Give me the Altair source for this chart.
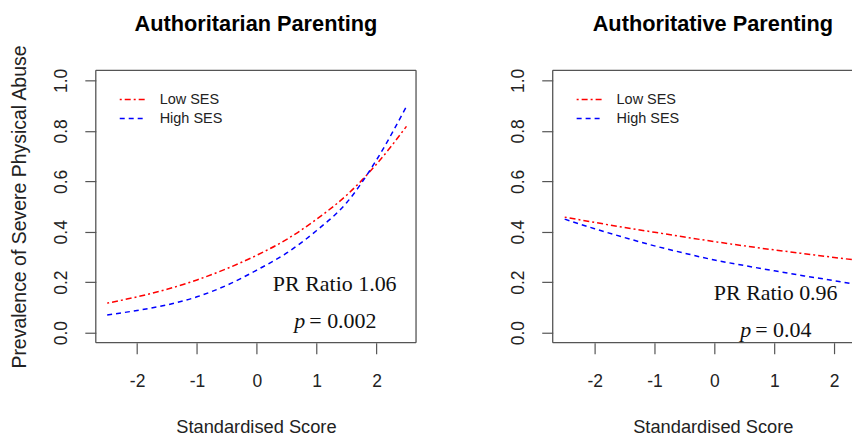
import altair as alt
import pandas as pd

# ---- data ----
X_SCORE = [-2.5, -2.0, -1.5, -1.0, -0.5, 0.0, 0.5, 1.0, 1.5, 2.0, 2.5]
SERIES = ["Low SES", "High SES"]

AUTHORITARIAN_LOW = [0.117, 0.142, 0.172, 0.209, 0.254, 0.307, 0.370, 0.450, 0.545, 0.668, 0.818]
AUTHORITARIAN_HIGH = [0.070, 0.088, 0.110, 0.142, 0.188, 0.248, 0.316, 0.405, 0.515, 0.685, 0.897]

AUTHORITATIVE_LOW = [0.458, 0.437, 0.417, 0.398, 0.379, 0.361, 0.344, 0.328, 0.313, 0.298, 0.284]
AUTHORITATIVE_HIGH = [0.450, 0.412, 0.377, 0.344, 0.315, 0.288, 0.266, 0.245, 0.225, 0.206, 0.186]

X_TICKS = [-2, -1, 0, 1, 2]
Y_TICKS = [0.0, 0.2, 0.4, 0.6, 0.8, 1.0]

TITLES = ["Authoritarian Parenting", "Authoritative Parenting"]
PR_TEXT = ["PR Ratio 1.06", "PR Ratio 0.96"]
P_TEXT = ["= 0.002", "= 0.04"]
X_TITLE = "Standardised Score"
Y_TITLE = "Prevalence of Severe Physical Abuse"

# ---- styles ----
COLORS = ["#ff0000", "#0000ff"]
DASHES = [[2, 3, 6, 3], [5, 4]]
FRAME = "#555555"
SANS = "Liberation Sans"
SERIF = "Liberation Serif"
H = 273
FULL_W = 321
ONE = alt.Data(values=[{}])


def make_df(low, high):
    rows = []
    for s, vals in zip(SERIES, [low, high]):
        for x, y in zip(X_SCORE, vals):
            rows.append({"x": x, "y": y, "series": s})
    return pd.DataFrame(rows)


def panel(idx, low, high, width, xdomain, show_ytitle, pr_pos, p_pos):
    df = make_df(low, high)
    yaxis_kw = dict(
        values=Y_TICKS, format=".1f", domain=False, grid=False, tickSize=11,
        tickColor=FRAME, tickWidth=1.2, labelFont=SANS, labelFontSize=17.5,
        labelColor="#222", labelAngle=270, labelAlign="center",
        labelBaseline="alphabetic", labelPadding=18, labelFlush=False,
    )
    if show_ytitle:
        yaxis_kw.update(
            title=Y_TITLE, titleFont=SANS, titleFontSize=19.5, titleFontWeight="normal",
            titleColor="#222", titleAngle=270, titleAlign="center",
            titleBaseline="alphabetic", titleX=-70, titleY=H / 2,
        )
    else:
        yaxis_kw.update(title=None)
    lines = alt.Chart(df).mark_line(clip=True, strokeWidth=1.5, interpolate="monotone").encode(
        x=alt.X("x:Q", scale=alt.Scale(domain=xdomain, nice=False, zero=False),
                axis=alt.Axis(values=X_TICKS, labelExpr="'' + datum.value", domain=False,
                              grid=False, tickSize=11, tickColor=FRAME, tickWidth=1.2,
                              labelFont=SANS, labelFontSize=17.5, labelColor="#222",
                              labelBaseline="alphabetic", labelPadding=33, labelFlush=False,
                              title=X_TITLE, titleFont=SANS, titleFontSize=18.3,
                              titleFontWeight="normal", titleColor="#222",
                              titleBaseline="alphabetic", titleX=FULL_W / 2, titleY=90)),
        y=alt.Y("y:Q", scale=alt.Scale(domain=[-0.04, 1.04], nice=False, zero=False),
                axis=alt.Axis(**yaxis_kw)),
        color=alt.Color("series:N", scale=alt.Scale(domain=SERIES, range=COLORS), legend=None),
        strokeDash=alt.StrokeDash("series:N", scale=alt.Scale(domain=SERIES, range=DASHES), legend=None),
    )
    layers = [lines]
    # panel title
    layers.append(alt.Chart(ONE).mark_text(text=TITLES[idx], font=SANS, fontSize=21.8,
                                           fontWeight="bold", color="black", align="center",
                                           baseline="alphabetic").encode(
        x=alt.value(FULL_W / 2), y=alt.value(-39)))
    # frame (the right panel is cut off at the picture's edge, as in the reference)
    layers.append(alt.Chart(ONE).mark_rule(color=FRAME, strokeWidth=1.3).encode(
        x=alt.value(0), x2=alt.value(width), y=alt.value(0)))
    layers.append(alt.Chart(ONE).mark_rule(color=FRAME, strokeWidth=1.3).encode(
        x=alt.value(0), x2=alt.value(width), y=alt.value(H)))
    layers.append(alt.Chart(ONE).mark_rule(color=FRAME, strokeWidth=1.3).encode(
        x=alt.value(0), y=alt.value(0), y2=alt.value(H)))
    if width >= FULL_W:
        layers.append(alt.Chart(ONE).mark_rule(color=FRAME, strokeWidth=1.3).encode(
            x=alt.value(width), y=alt.value(0), y2=alt.value(H)))
    # legend
    for k, s in enumerate(SERIES):
        ly = 29.3 + 19 * k
        layers.append(alt.Chart(ONE).mark_rule(color=COLORS[k], strokeWidth=1.5,
                                               strokeDash=DASHES[k]).encode(
            x=alt.value(24), x2=alt.value(49), y=alt.value(ly)))
        layers.append(alt.Chart(ONE).mark_text(text=s, font=SANS, fontSize=14.5, color="#222",
                                               align="left", baseline="middle").encode(
            x=alt.value(64), y=alt.value(ly + 0.8)))
    # annotation
    layers.append(alt.Chart(ONE).mark_text(text=PR_TEXT[idx], font=SERIF, fontSize=22,
                                           color="#111", align="center",
                                           baseline="alphabetic").encode(
        x=alt.value(pr_pos[0]), y=alt.value(pr_pos[1])))
    layers.append(alt.Chart(ONE).mark_text(text="p", font=SERIF, fontSize=22, fontStyle="italic",
                                           color="#111", align="right",
                                           baseline="alphabetic").encode(
        x=alt.value(p_pos[0] - 4), y=alt.value(p_pos[1])))
    layers.append(alt.Chart(ONE).mark_text(text=P_TEXT[idx], font=SERIF, fontSize=22,
                                           color="#111", align="left",
                                           baseline="alphabetic").encode(
        x=alt.value(p_pos[0]), y=alt.value(p_pos[1])))
    return alt.layer(*layers).properties(width=width, height=H)


left = panel(0, AUTHORITARIAN_LOW, AUTHORITARIAN_HIGH, 321, [-2.69, 2.66], True,
             (239.5, 220.7), (214, 258.3))
right = panel(1, AUTHORITATIVE_LOW, AUTHORITATIVE_HIGH, 300, [-2.70, 2.297], False,
              (223.5, 230), (203, 267.3))

chart = alt.hconcat(left, right, spacing=137, bounds="flush").properties(
    padding={"left": 1, "top": 6, "right": 0, "bottom": 0}
).configure(background="white").configure_view(strokeWidth=0)

chart.save("out.html", embed_options={"renderer": "svg", "actions": False})
